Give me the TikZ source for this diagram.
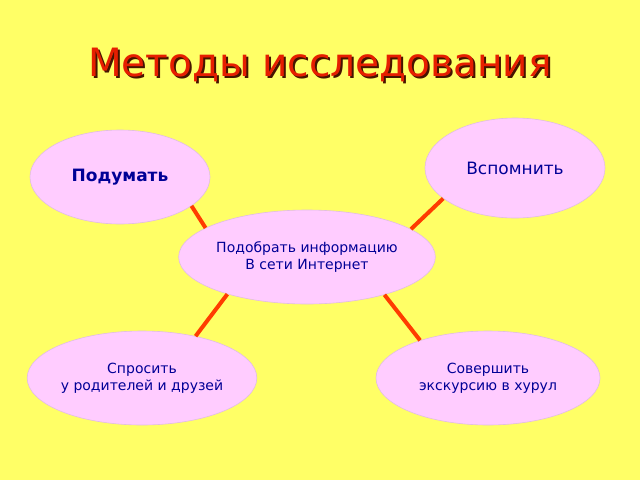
\documentclass[tikz,border=0pt]{standalone}
\usepackage{fontspec}
\setmainfont{DejaVu Sans}
\usetikzlibrary{shapes.geometric}
\begin{document}
\begin{tikzpicture}[x=1pt,y=-1pt,
  bub/.style={ellipse,fill={rgb,255:red,255;green,204;blue,255},draw={rgb,255:red,225;green,190;blue,225},line width=0.6pt,inner sep=0pt,text={rgb,255:red,0;green,0;blue,150},align=center,font=\fontsize{14}{17}\selectfont},
  link/.style={draw={rgb,255:red,255;green,60;blue,0},line width=4pt}]
\useasboundingbox[fill={rgb,255:red,255;green,255;blue,102}] (0,0) rectangle (640,480);
\node[text={rgb,255:red,70;green,20;blue,0}] at (322,67) {\fontsize{39}{44}\selectfont Методы исследования};
\node (title) [text={rgb,255:red,230;green,30;blue,0}] at (320,65) {\fontsize{39}{44}\selectfont Методы исследования};
\node (a) [bub,minimum width=180,minimum height=94,font=\bfseries\fontsize{17}{20}\selectfont] at (120,177) {Подумать};
\node (b) [bub,minimum width=180,minimum height=100,font=\fontsize{17}{20}\selectfont] at (515,168) {Вспомнить};
\node (c) [bub,minimum width=246,minimum height=94] at (307,257) {Подобрать информацию\\В сети Интернет};
\node (d) [bub,minimum width=224,minimum height=94] at (142,378) {Спросить\\у родителей и друзей};
\node (e) [bub,minimum width=224,minimum height=94] at (488,378) {Совершить\\экскурсию в хурул};
\draw[link] (a.-22) -- (c.164);
\draw[link] (b.203) -- (c.15);
\draw[link] (c.205) -- (d.38);
\draw[link] (c.334) -- (e.151);
\end{tikzpicture}
\end{document}
